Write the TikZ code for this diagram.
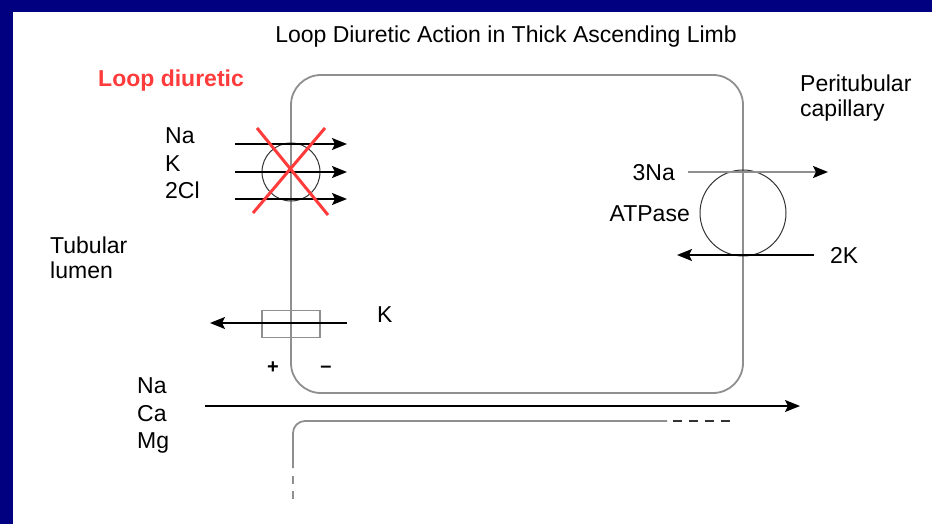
\documentclass[tikz,border=0pt]{standalone}
\usepackage{fontspec}
\setmainfont{Liberation Sans}
\usetikzlibrary{arrows.meta}
\definecolor{membgray}{HTML}{8F8F8F}
\definecolor{xred}{HTML}{FF3B3B}
\definecolor{navyborder}{HTML}{000080}
\begin{document}
\begin{tikzpicture}[x=1pt,y=-1pt,
  memb/.style={draw=membgray, line width=1.8pt},
  flux/.style={line width=1.5pt, -{Stealth[length=15pt,width=12pt,inset=3pt]}},
  grayflux/.style={draw=membgray, line width=1.8pt, -{Stealth[length=15pt,width=12pt,inset=3pt,color=black]}},
  lbl/.style={inner sep=0pt, font=\fontsize{23}{27}\selectfont, anchor=west, text height=16.5pt, text depth=0pt},
  pore/.style={circle, draw=black!80, line width=1pt, inner sep=0pt},
  cross/.style={draw=xred, line width=3pt},
  sign/.style={inner sep=0pt, font=\fontsize{20}{24}\selectfont\bfseries}]
\fill[navyborder] (0,0) rectangle (932,524);
\fill[white] (13,12) rectangle (932,524);
\useasboundingbox (0,0) rectangle (932,524);

% title and labels
\node[lbl, anchor=center] (title) at (506,34) {Loop Diuretic Action in Thick Ascending Limb};
\node[lbl, text=xred, font=\fontsize{23}{27}\selectfont\bfseries] (loopd) at (98,78) {Loop diuretic};
\node[lbl] (peri1) at (800,83) {Peritubular};
\node[lbl] (peri2) at (800,108) {capillary};
\node[lbl] (lna) at (165,135) {Na};
\node[lbl] (lk) at (165,163) {K};
\node[lbl] (lcl) at (165,190) {2Cl};
\node[lbl] (tub1) at (50,245) {Tubular};
\node[lbl] (tub2) at (50,270) {lumen};
\node[lbl, anchor=east] (l3na) at (675,172) {3Na};
\node[lbl, anchor=east] (latp) at (690,213) {ATPase};
\node[lbl] (l2k) at (830,255) {2K};
\node[lbl] (lkch) at (377,314) {K};
\node[sign] (plus) at (273,368) {+};
\node[sign] (minus) at (326,369) {--};
\node[lbl] (pna) at (137,385) {Na};
\node[lbl] (pca) at (137,413) {Ca};
\node[lbl] (pmg) at (137,440) {Mg};

% cell
\node[memb, rounded corners=30pt, minimum width=452pt, minimum height=318pt, inner sep=0pt] (cell) at (517,234) {};

% NKCC2 cotransporter
\node[pore, minimum size=58pt] (nkcc) at (291,172) {};
\coordinate (a1s) at (235,144); \coordinate (a1e) at (347,144);
\coordinate (a2s) at (235,172); \coordinate (a2e) at (347,172);
\coordinate (a3s) at (235,199); \coordinate (a3e) at (347,199);
\draw[flux] (a1s) -- (a1e);
\draw[flux] (a2s) -- (a2e);
\draw[flux] (a3s) -- (a3e);
\coordinate (x1a) at (257,128); \coordinate (x1b) at (328,215);
\coordinate (x2a) at (325,128); \coordinate (x2b) at (253,213);
\draw[cross] (x1a) -- (x1b);
\draw[cross] (x2a) -- (x2b);

% Na/K ATPase
\node[pore, minimum size=86pt] (atpase) at (743,213) {};
\coordinate (na3s) at (688,172); \coordinate (na3e) at (828,172);
\coordinate (k2s) at (814,255); \coordinate (k2e) at (677,255);
\draw[grayflux] (na3s) -- (na3e);
\draw[flux] (k2s) -- (k2e);

% K channel
\node[draw=membgray, line width=1.5pt, minimum width=58pt, minimum height=27pt, inner sep=0pt] (kch) at (291,324) {};
\coordinate (kchs) at (347,323); \coordinate (kche) at (210,323);
\draw[flux] (kchs) -- (kche);

% paracellular pathway
\coordinate (pars) at (205,406); \coordinate (pare) at (800,406);
\draw[flux] (pars) -- (pare);

% next cell
\coordinate (nc1) at (293,468); \coordinate (nc2) at (293,421); \coordinate (nc3) at (667,421);
\draw[memb, rounded corners=12pt] (nc1) -- (nc2) -- (nc3);
\coordinate (nd1) at (293,476); \coordinate (nd2) at (293,502);
\draw[draw=membgray, line width=2pt, dash pattern=on 8pt off 7pt] (nd1) -- (nd2);
\coordinate (hd1) at (673,421); \coordinate (hd2) at (734,421);
\draw[draw=black!80, line width=2pt, dash pattern=on 9pt off 7pt] (hd1) -- (hd2);
\end{tikzpicture}
\end{document}
